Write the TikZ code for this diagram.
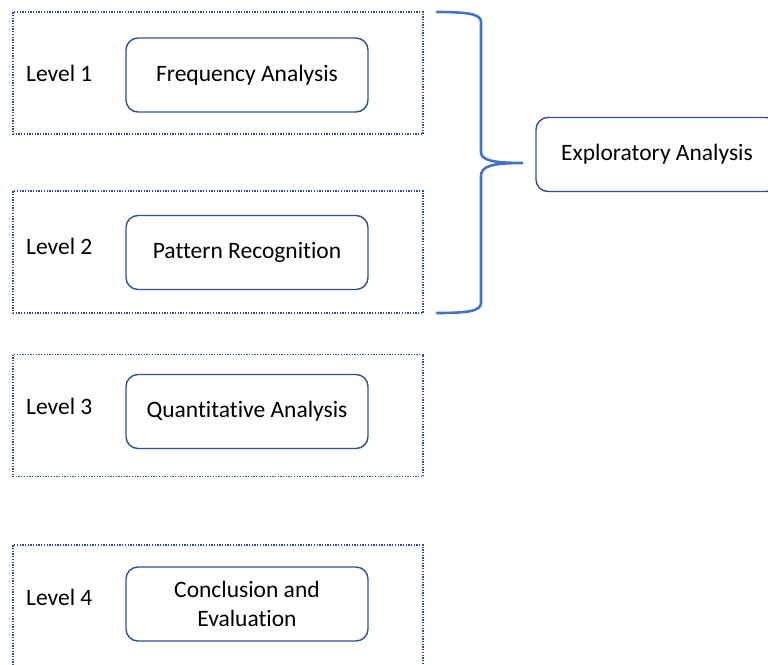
\documentclass[tikz,border=0pt]{standalone}
\usepackage{fontspec}
\setmainfont{Carlito}[Ligatures=NoCommon]
\usetikzlibrary{positioning}
\definecolor{boxblue}{HTML}{2F528F}
\definecolor{braceblue}{HTML}{4472C4}

\begin{document}
\begin{tikzpicture}[x=1pt,y=-1pt,font=\fontsize{23.5}{29}\selectfont,every text node part/.style={align=center},
	levelbox/.style={draw=boxblue,line width=1.2pt,dash pattern=on 1.3pt off 1.4pt,minimum width=410pt,minimum height=122pt,inner sep=0pt},
	taskbox/.style={draw=boxblue,line width=1.4pt,rounded corners=12pt,minimum width=242pt,minimum height=74pt,inner sep=0pt},
	leveltag/.style={anchor=west,inner sep=0pt},
	bracepath/.style={draw=braceblue,line width=2.6pt,line cap=round}]
	\useasboundingbox (0,0) rectangle (768,664);
	\clip (0,0) rectangle (768,664);

	\node[levelbox] (lv1) at (218,73) {};
	\node[levelbox] (lv2) at (218,252) {};
	\node[levelbox] (lv3) at (218,415.5) {};
	\node[levelbox] (lv4) at (218,606) {};

	\node[leveltag] (tag1) at (26,73) {Level 1};
	\node[leveltag] (tag2) at (26,246) {Level 2};
	\node[leveltag] (tag3) at (26,406) {Level 3};
	\node[leveltag] (tag4) at (26,597) {Level 4};

	\node[taskbox] (freq) at (247,75) {Frequency Analysis};
	\node[taskbox] (patt) at (247,252.5) {Pattern Recognition};
	\node[taskbox] (quant) at (247,411.5) {Quantitative Analysis};
	\node[taskbox] (concl) at (247,604) {Conclusion and\\Evaluation};

	\node[taskbox] (explo) at (657,154.5) {Exploratory Analysis};

	\coordinate (btop) at (437,12);
	\coordinate (btip) at (523,163);
	\coordinate (bbot) at (437,313);
	\draw[bracepath] (btop) .. controls (468,12) and (481,14) .. (481,22) -- (481,152)
		.. controls (481,160) and (492,163) .. (btip)
		.. controls (492,163) and (481,166) .. (481,176) -- (481,303)
		.. controls (481,311) and (468,313) .. (bbot);
\end{tikzpicture}
\end{document}
